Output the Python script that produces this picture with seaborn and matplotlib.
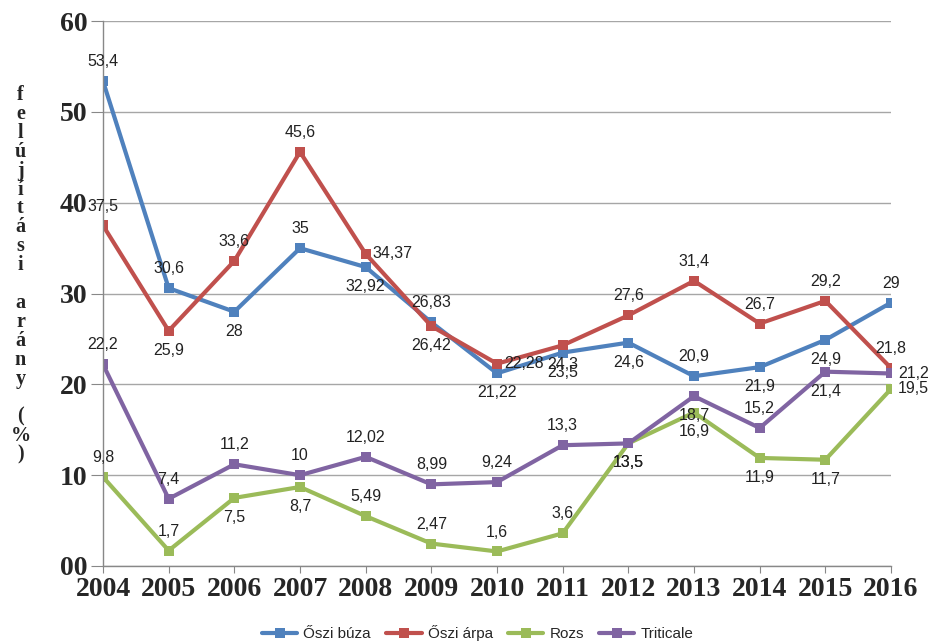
import pandas as pd
import matplotlib.pyplot as plt
import seaborn as sns

years = list(range(2004, 2017))
buza = [53.4, 30.6, 28, 35, 32.92, 26.83, 21.22, 23.5, 24.6, 20.9, 21.9, 24.9, 29]
arpa = [37.5, 25.9, 33.6, 45.6, 34.37, 26.42, 22.28, 24.3, 27.6, 31.4, 26.7, 29.2, 21.8]
rozs = [9.8, 1.7, 7.5, 8.7, 5.49, 2.47, 1.6, 3.6, 13.5, 16.9, 11.9, 11.7, 19.5]
triticale = [22.2, 7.4, 11.2, 10, 12.02, 8.99, 9.24, 13.3, 13.5, 18.7, 15.2, 21.4, 21.2]
names = ["Őszi búza", "Őszi árpa", "Rozs", "Triticale"]
colors = ["#4F81BD", "#C0504D", "#9BBB59", "#8064A2"]

# label placement per point: a = above, b = below, r = right
label_pos = {
    "Őszi búza": "aabababbbabba",
    "Őszi árpa": "abaarbrbaaaaa",
    "Rozs": "aabbaaaabbbbr",
    "Triticale": "aaaaaaaabbabr",
}

df = pd.DataFrame({
    "year": years * 4,
    "value": buza + arpa + rozs + triticale,
    "series": [n for n in names for _ in years],
})

sns.set_style("white")
fig = plt.figure(figsize=(9.33, 6.42), dpi=100)
ax = fig.add_axes([0.1104, 0.1184, 0.8446, 0.8486])

sns.lineplot(data=df, x="year", y="value", hue="series", hue_order=names,
             palette=colors, marker="s", markersize=7, markeredgewidth=0,
             linewidth=3, dashes=False, ax=ax, legend=True)

for name, vals in zip(names, [buza, arpa, rozs, triticale]):
    for x, v, p in zip(years, vals, label_pos[name]):
        txt = "{:g}".format(v).replace(".", ",")
        if p == "a":
            off, ha = (0, 14), "center"
        elif p == "b":
            off, ha = (0, -14), "center"
        else:
            off, ha = (5, 0), "left"
        ax.annotate(txt, (x, v), xytext=off, textcoords="offset points",
                    ha=ha, va="center", fontsize=11.5, color="#222222",
                    family="Liberation Sans", zorder=5)

ax.set_xlim(2004, 2016)
ax.set_ylim(0, 60)
ax.set_xticks(years)
ax.set_yticks([0, 10, 20, 30, 40, 50, 60])
ax.set_yticklabels(["00", "10", "20", "30", "40", "50", "60"])
for lab in ax.get_xticklabels() + ax.get_yticklabels():
    lab.set_family("Liberation Serif")
    lab.set_fontweight("bold")
    lab.set_fontsize(20)
ax.tick_params(axis="y", length=9, color="#888888", pad=2, direction="out", left=True)
ax.tick_params(axis="x", length=5, color="#888888", pad=3, direction="out", bottom=True)
ax.yaxis.grid(True, color="#a6a6a6", linewidth=1)
ax.xaxis.grid(False)
ax.set_axisbelow(True)
for s in ["top", "right"]:
    ax.spines[s].set_visible(False)
for s in ["left", "bottom"]:
    ax.spines[s].set_color("#888888")
    ax.spines[s].set_linewidth(1)
ax.set_xlabel("")
ax.set_ylabel("")

fig.text(0.022, 0.572, "\n".join("felújítási arány (%)"),
         ha="center", va="center", family="Liberation Serif", fontweight="bold",
         fontsize=14.5, linespacing=0.93)

handles, labels = ax.get_legend_handles_labels()
ax.legend(handles, labels, loc="center", bbox_to_anchor=(0.512, 0.014),
          bbox_transform=fig.transFigure, ncol=4, frameon=False,
          handlelength=2.3, columnspacing=1.0, handletextpad=0.4,
          prop={"family": "Liberation Sans", "size": 11})

fig.savefig("out.png", dpi=100)
